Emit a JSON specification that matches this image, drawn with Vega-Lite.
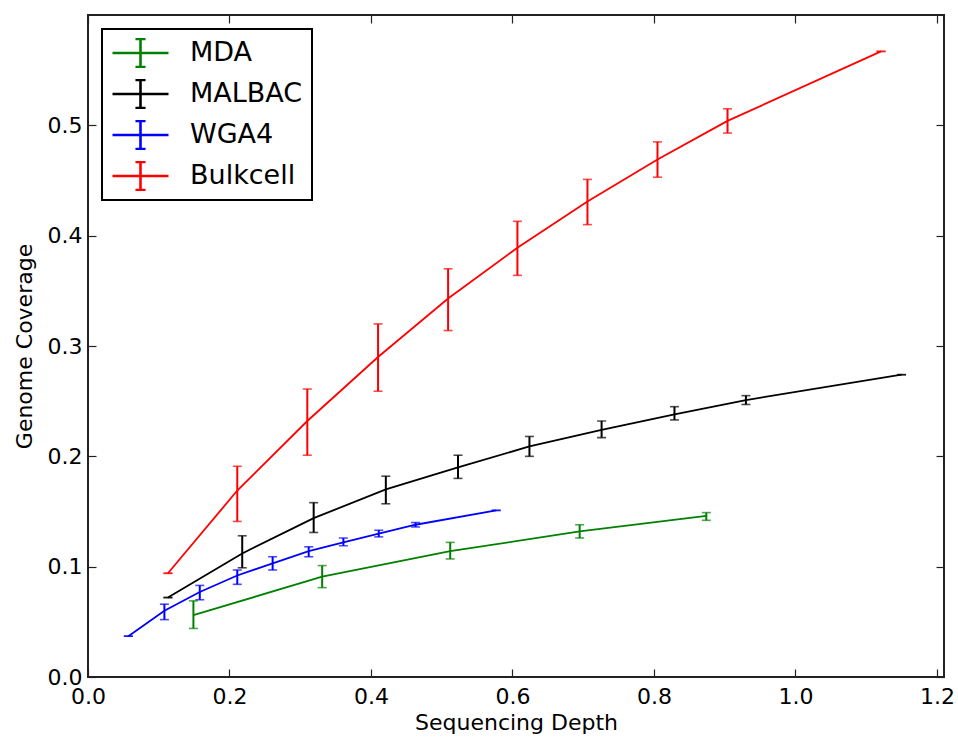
{
  "$schema": "https://vega.github.io/schema/vega-lite/v6.json",
  "width": 856,
  "height": 662,
  "autosize": {"type": "none"},
  "padding": {"left": 88, "top": 15, "right": 14, "bottom": 61},
  "background": "white",
  "config": {
    "font": "DejaVu Sans",
    "view": {"stroke": "#222222", "strokeWidth": 2},
    "axis": {"grid": false, "domain": false, "tickColor": "#222222", "tickSize": -8, "tickWidth": 1.2, "labelColor": "black", "titleColor": "black", "labelFont": "DejaVu Sans", "titleFont": "DejaVu Sans", "labelFontSize": 22, "titleFontSize": 22, "titleFontWeight": "normal", "labelFlush": false, "labelOverlap": false, "labelBound": false},
    "legend": {"orient": "top-left", "offset": 14, "padding": 9, "strokeColor": "black", "strokeWidth": 2, "fillColor": "white", "labelFontSize": 27, "labelFont": "DejaVu Sans", "labelColor": "black", "labelOffset": 20, "symbolType": "M-1,0H1M0,-0.5V0.5M-0.18,-0.5H0.18M-0.18,0.5H0.18", "symbolSize": 3136, "symbolStrokeWidth": 2.6, "symbolOpacity": 1, "symbolFillColor": "transparent", "rowPadding": 11, "clipHeight": 30, "labelLimit": 400}
  },
  "data": {
    "values": [
      {"series": "Bulkcell", "x": 0.113, "y": 0.094, "lo": 0.094, "hi": 0.094},
      {"series": "Bulkcell", "x": 0.211, "y": 0.169, "lo": 0.141, "hi": 0.191},
      {"series": "Bulkcell", "x": 0.310, "y": 0.232, "lo": 0.201, "hi": 0.261},
      {"series": "Bulkcell", "x": 0.410, "y": 0.290, "lo": 0.259, "hi": 0.320},
      {"series": "Bulkcell", "x": 0.509, "y": 0.343, "lo": 0.314, "hi": 0.370},
      {"series": "Bulkcell", "x": 0.607, "y": 0.389, "lo": 0.364, "hi": 0.413},
      {"series": "Bulkcell", "x": 0.706, "y": 0.431, "lo": 0.410, "hi": 0.451},
      {"series": "Bulkcell", "x": 0.805, "y": 0.469, "lo": 0.453, "hi": 0.485},
      {"series": "Bulkcell", "x": 0.904, "y": 0.504, "lo": 0.493, "hi": 0.515},
      {"series": "Bulkcell", "x": 1.121, "y": 0.567, "lo": 0.567, "hi": 0.567},
      {"series": "MALBAC", "x": 0.113, "y": 0.072, "lo": 0.072, "hi": 0.072},
      {"series": "MALBAC", "x": 0.218, "y": 0.112, "lo": 0.099, "hi": 0.128},
      {"series": "MALBAC", "x": 0.319, "y": 0.144, "lo": 0.131, "hi": 0.158},
      {"series": "MALBAC", "x": 0.421, "y": 0.170, "lo": 0.157, "hi": 0.182},
      {"series": "MALBAC", "x": 0.523, "y": 0.190, "lo": 0.180, "hi": 0.201},
      {"series": "MALBAC", "x": 0.624, "y": 0.209, "lo": 0.200, "hi": 0.218},
      {"series": "MALBAC", "x": 0.726, "y": 0.224, "lo": 0.217, "hi": 0.232},
      {"series": "MALBAC", "x": 0.829, "y": 0.238, "lo": 0.233, "hi": 0.245},
      {"series": "MALBAC", "x": 0.930, "y": 0.251, "lo": 0.247, "hi": 0.255},
      {"series": "MALBAC", "x": 1.150, "y": 0.274, "lo": 0.274, "hi": 0.274},
      {"series": "WGA4", "x": 0.057, "y": 0.037, "lo": 0.037, "hi": 0.037},
      {"series": "WGA4", "x": 0.108, "y": 0.060, "lo": 0.052, "hi": 0.066},
      {"series": "WGA4", "x": 0.158, "y": 0.077, "lo": 0.070, "hi": 0.083},
      {"series": "WGA4", "x": 0.211, "y": 0.092, "lo": 0.084, "hi": 0.097},
      {"series": "WGA4", "x": 0.261, "y": 0.103, "lo": 0.097, "hi": 0.109},
      {"series": "WGA4", "x": 0.312, "y": 0.114, "lo": 0.109, "hi": 0.118},
      {"series": "WGA4", "x": 0.361, "y": 0.122, "lo": 0.119, "hi": 0.126},
      {"series": "WGA4", "x": 0.411, "y": 0.130, "lo": 0.127, "hi": 0.133},
      {"series": "WGA4", "x": 0.463, "y": 0.138, "lo": 0.136, "hi": 0.140},
      {"series": "WGA4", "x": 0.577, "y": 0.151, "lo": 0.151, "hi": 0.151},
      {"series": "MDA", "x": 0.149, "y": 0.056, "lo": 0.044, "hi": 0.069},
      {"series": "MDA", "x": 0.331, "y": 0.091, "lo": 0.081, "hi": 0.101},
      {"series": "MDA", "x": 0.512, "y": 0.114, "lo": 0.107, "hi": 0.122},
      {"series": "MDA", "x": 0.695, "y": 0.132, "lo": 0.126, "hi": 0.138},
      {"series": "MDA", "x": 0.874, "y": 0.146, "lo": 0.142, "hi": 0.149}
    ]
  },
  "resolve": {"axis": {"x": "independent", "y": "independent"}},
  "layer": [
    {
      "mark": {"type": "line", "strokeWidth": 1.8},
      "encoding": {
        "x": {"field": "x", "type": "quantitative", "scale": {"domain": [0, 1.21], "nice": false, "zero": false},
              "axis": {"orient": "bottom", "values": [0, 0.2, 0.4, 0.6, 0.8, 1.0, 1.2], "format": ".1f", "title": "Sequencing Depth", "labelPadding": 17, "titleY": 52, "titleBaseline": "alphabetic"}},
        "y": {"field": "y", "type": "quantitative", "scale": {"domain": [0, 0.6], "nice": false, "zero": false},
              "axis": {"orient": "left", "values": [0, 0.1, 0.2, 0.3, 0.4, 0.5], "format": ".1f", "title": "Genome Coverage", "labelPadding": 14, "titleX": -57, "titleBaseline": "alphabetic"}},
        "color": {"field": "series", "type": "nominal", "scale": {"domain": ["MDA", "MALBAC", "WGA4", "Bulkcell"], "range": ["#008000", "#000000", "#0000ff", "#ff0000"]},
                  "legend": {"title": null}},
        "detail": {"field": "series"}
      }
    },
    {
      "mark": {"type": "errorbar", "ticks": {"size": 9, "thickness": 1.6}, "thickness": 2},
      "encoding": {
        "x": {"field": "x", "type": "quantitative", "scale": {"domain": [0, 1.21], "nice": false, "zero": false},
              "axis": {"orient": "top", "values": [0, 0.2, 0.4, 0.6, 0.8, 1.0, 1.2], "labels": false, "title": null}},
        "y": {"field": "lo", "type": "quantitative", "scale": {"domain": [0, 0.6], "nice": false, "zero": false},
              "axis": {"orient": "right", "values": [0, 0.1, 0.2, 0.3, 0.4, 0.5], "labels": false, "title": null}},
        "y2": {"field": "hi"},
        "color": {"field": "series", "type": "nominal"}
      }
    }
  ]
}
